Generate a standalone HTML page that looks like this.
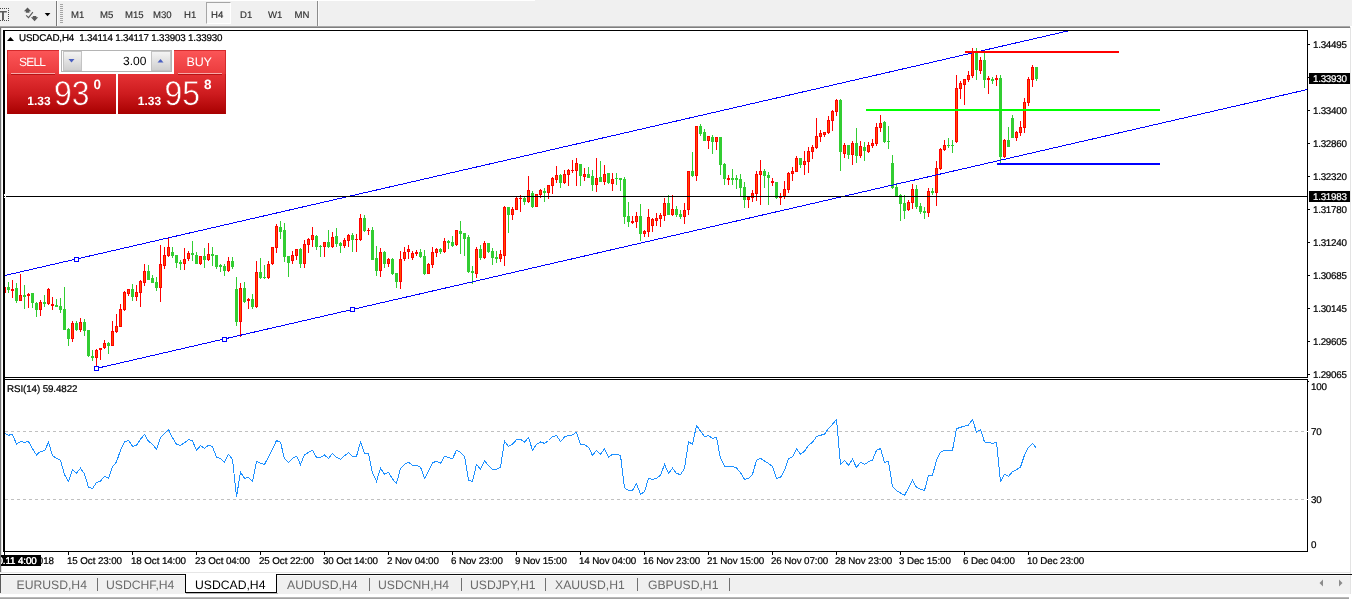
<!DOCTYPE html>
<html><head><meta charset="utf-8"><title>USDCAD,H4</title>
<style>
html,body{margin:0;padding:0;}
body{width:1352px;height:599px;overflow:hidden;background:#fff;position:relative;font-family:"Liberation Sans","DejaVu Sans",sans-serif;text-rendering:geometricPrecision;}
.abs{position:absolute;}
.t{position:absolute;white-space:nowrap;line-height:1;}
#toolbar{left:0;top:0;width:1352px;height:26px;background:#f0f0f0;}
.tf{position:absolute;top:10px;font-size:9.6px;color:#303030;-webkit-text-stroke:0.15px #303030;line-height:11px;white-space:nowrap;}
.pl{position:absolute;left:1313px;font-size:9.8px;color:#000;-webkit-text-stroke:0.22px currentColor;line-height:10px;white-space:nowrap;letter-spacing:-0.25px;}
.tl{position:absolute;top:557px;font-size:9.8px;color:#000;-webkit-text-stroke:0.22px currentColor;line-height:10px;white-space:nowrap;letter-spacing:-0.1px;}
.tab{position:absolute;top:579px;font-size:12.2px;line-height:13px;color:#6a6a6a;white-space:nowrap;letter-spacing:0px;margin-left:-1px;}
.sep{position:absolute;top:578px;width:1px;height:13px;background:#707070;}
.btn{position:absolute;color:#fff;}
</style></head><body>

<div id="toolbar" class="abs"></div>
<div class="abs" style="left:0;top:0;width:535px;height:1px;background:#ffffff"></div>
<div class="abs" style="left:0;top:26px;width:1350px;height:1px;background:#a8a8a8"></div>
<div class="abs" style="left:0;top:27px;width:1350px;height:1px;background:#7e7e7e"></div>
<div class="abs" style="left:1350px;top:27px;width:1px;height:567px;background:#e3e3e3"></div>
<div class="abs" style="left:-3px;top:8px;width:12px;height:13px;border:1px dotted #4a4a4a;box-sizing:border-box"></div>
<div class="t" style="left:-1px;top:9px;font-size:13px;line-height:13px;font-weight:bold;color:#5a5a5a">T</div>
<svg class="abs" style="left:22px;top:6px" width="30" height="17" viewBox="22 6 30 17"><path d="M27.5 7.6 L31.2 11.2 L29.4 11.2 L29.4 12.8 L25.8 12.8 L25.8 11.2 L23.9 11.2 Z M34.6 21.2 L38.2 17.2 L36.3 17.2 L36.3 16 L32.8 16 L32.8 17.2 L30.9 17.2 Z" fill="#5a5a5a"/><path d="M26.2 15.4 L28.5 17.6 L32.9 12.1" fill="none" stroke="#5a5a5a" stroke-width="1.1"/><path d="M44.7 13 L50.4 13 L47.55 16.2 Z" fill="#000"/></svg>
<div class="abs" style="left:56px;top:1px;width:1px;height:25px;background:#7a7a7a"></div>
<div class="abs" style="left:57px;top:1px;width:1px;height:25px;background:#fafafa"></div>
<div class="abs" style="left:60px;top:4px;width:3px;height:19px;background:repeating-linear-gradient(#a4a4a4 0 1px,#f0f0f0 1px 2px)"></div>
<div class="abs" style="left:206px;top:2px;width:25px;height:22px;box-sizing:border-box;border:1px solid #a6a6a6;border-right-color:#fff;border-bottom-color:#fff;background:#f7f7f7"></div>
<div class="tf" style="left:71px">M1</div>
<div class="tf" style="left:100px">M5</div>
<div class="tf" style="left:125px">M15</div>
<div class="tf" style="left:153px">M30</div>
<div class="tf" style="left:184px">H1</div>
<div class="tf" style="left:211px">H4</div>
<div class="tf" style="left:240px">D1</div>
<div class="tf" style="left:268px">W1</div>
<div class="tf" style="left:294.5px">MN</div>
<div class="abs" style="left:317px;top:1px;width:1px;height:25px;background:#8c8c8c"></div>
<div class="abs" style="left:318px;top:1px;width:1px;height:25px;background:#fafafa"></div>
<div class="abs" style="left:0;top:28px;width:1px;height:544px;background:#727272"></div>
<div class="abs" style="left:1px;top:28px;width:1px;height:544px;background:#e4e4e4"></div>
<svg class="abs" style="left:0;top:0" width="1352" height="599" viewBox="0 0 1352 599" shape-rendering="crispEdges">
<defs><clipPath id="cm"><rect x="5" y="31" width="1302" height="346"/></clipPath><clipPath id="cr"><rect x="5" y="381" width="1302" height="170"/></clipPath></defs>
<g clip-path="url(#cm)">
<rect x="4" y="287" width="1" height="6" fill="#ff0000"/>
<rect x="3" y="287" width="3" height="6" fill="#ff0000"/>
<rect x="4" y="288" width="1" height="4" fill="#ff4a00"/>
<rect x="8" y="282" width="1" height="11" fill="#32cd32"/>
<rect x="7" y="287" width="3" height="3" fill="#32cd32"/>
<rect x="12" y="280" width="1" height="18" fill="#ff0000"/>
<rect x="11" y="289" width="3" height="2" fill="#ff0000"/>
<rect x="16" y="283" width="1" height="20" fill="#32cd32"/>
<rect x="15" y="288" width="3" height="13" fill="#32cd32"/>
<rect x="20" y="274" width="1" height="27" fill="#ff0000"/>
<rect x="19" y="295" width="3" height="6" fill="#ff0000"/>
<rect x="20" y="296" width="1" height="4" fill="#ff4a00"/>
<rect x="24" y="285" width="1" height="24" fill="#32cd32"/>
<rect x="23" y="295" width="3" height="2" fill="#32cd32"/>
<rect x="28" y="293" width="1" height="15" fill="#ff0000"/>
<rect x="27" y="294" width="3" height="2" fill="#ff0000"/>
<rect x="32" y="293" width="1" height="15" fill="#32cd32"/>
<rect x="31" y="293" width="3" height="10" fill="#32cd32"/>
<rect x="36" y="302" width="1" height="15" fill="#32cd32"/>
<rect x="35" y="303" width="3" height="7" fill="#32cd32"/>
<rect x="40" y="300" width="1" height="16" fill="#ff0000"/>
<rect x="39" y="302" width="3" height="8" fill="#ff0000"/>
<rect x="40" y="303" width="1" height="6" fill="#ff4a00"/>
<rect x="44" y="295" width="1" height="12" fill="#32cd32"/>
<rect x="43" y="302" width="3" height="2" fill="#32cd32"/>
<rect x="48" y="288" width="1" height="17" fill="#ff0000"/>
<rect x="47" y="289" width="3" height="15" fill="#ff0000"/>
<rect x="48" y="290" width="1" height="13" fill="#ff4a00"/>
<rect x="52" y="297" width="1" height="13" fill="#ff0000"/>
<rect x="51" y="304" width="3" height="2" fill="#ff0000"/>
<rect x="56" y="299" width="1" height="8" fill="#32cd32"/>
<rect x="55" y="305" width="3" height="2" fill="#32cd32"/>
<rect x="60" y="298" width="1" height="15" fill="#32cd32"/>
<rect x="59" y="306" width="3" height="4" fill="#32cd32"/>
<rect x="64" y="287" width="1" height="43" fill="#32cd32"/>
<rect x="63" y="309" width="3" height="21" fill="#32cd32"/>
<rect x="68" y="328" width="1" height="18" fill="#32cd32"/>
<rect x="67" y="329" width="3" height="10" fill="#32cd32"/>
<rect x="72" y="321" width="1" height="21" fill="#ff0000"/>
<rect x="71" y="323" width="3" height="16" fill="#ff0000"/>
<rect x="72" y="324" width="1" height="14" fill="#ff4a00"/>
<rect x="76" y="321" width="1" height="10" fill="#32cd32"/>
<rect x="75" y="323" width="3" height="7" fill="#32cd32"/>
<rect x="80" y="318" width="1" height="14" fill="#ff0000"/>
<rect x="79" y="322" width="3" height="8" fill="#ff0000"/>
<rect x="80" y="323" width="1" height="6" fill="#ff4a00"/>
<rect x="84" y="319" width="1" height="17" fill="#32cd32"/>
<rect x="83" y="322" width="3" height="9" fill="#32cd32"/>
<rect x="88" y="330" width="1" height="27" fill="#32cd32"/>
<rect x="87" y="330" width="3" height="26" fill="#32cd32"/>
<rect x="92" y="350" width="1" height="11" fill="#32cd32"/>
<rect x="91" y="356" width="3" height="2" fill="#32cd32"/>
<rect x="96" y="349" width="1" height="18" fill="#ff0000"/>
<rect x="95" y="350" width="3" height="8" fill="#ff0000"/>
<rect x="96" y="351" width="1" height="6" fill="#ff4a00"/>
<rect x="100" y="348" width="1" height="12" fill="#ff0000"/>
<rect x="99" y="348" width="3" height="2" fill="#ff0000"/>
<rect x="104" y="340" width="1" height="9" fill="#ff0000"/>
<rect x="103" y="343" width="3" height="5" fill="#ff0000"/>
<rect x="104" y="344" width="1" height="3" fill="#ff4a00"/>
<rect x="108" y="342" width="1" height="12" fill="#32cd32"/>
<rect x="107" y="343" width="3" height="3" fill="#32cd32"/>
<rect x="112" y="321" width="1" height="25" fill="#ff0000"/>
<rect x="111" y="331" width="3" height="15" fill="#ff0000"/>
<rect x="112" y="332" width="1" height="13" fill="#ff4a00"/>
<rect x="116" y="314" width="1" height="19" fill="#ff0000"/>
<rect x="115" y="326" width="3" height="6" fill="#ff0000"/>
<rect x="116" y="327" width="1" height="4" fill="#ff4a00"/>
<rect x="120" y="304" width="1" height="23" fill="#ff0000"/>
<rect x="119" y="309" width="3" height="18" fill="#ff0000"/>
<rect x="120" y="310" width="1" height="16" fill="#ff4a00"/>
<rect x="124" y="291" width="1" height="20" fill="#ff0000"/>
<rect x="123" y="292" width="3" height="18" fill="#ff0000"/>
<rect x="124" y="293" width="1" height="16" fill="#ff4a00"/>
<rect x="128" y="289" width="1" height="7" fill="#ff0000"/>
<rect x="127" y="289" width="3" height="5" fill="#ff0000"/>
<rect x="128" y="290" width="1" height="3" fill="#ff4a00"/>
<rect x="132" y="284" width="1" height="17" fill="#32cd32"/>
<rect x="131" y="289" width="3" height="8" fill="#32cd32"/>
<rect x="136" y="285" width="1" height="16" fill="#ff0000"/>
<rect x="135" y="292" width="3" height="5" fill="#ff0000"/>
<rect x="136" y="293" width="1" height="3" fill="#ff4a00"/>
<rect x="140" y="280" width="1" height="27" fill="#ff0000"/>
<rect x="139" y="281" width="3" height="12" fill="#ff0000"/>
<rect x="140" y="282" width="1" height="10" fill="#ff4a00"/>
<rect x="144" y="264" width="1" height="22" fill="#ff0000"/>
<rect x="143" y="271" width="3" height="12" fill="#ff0000"/>
<rect x="144" y="272" width="1" height="10" fill="#ff4a00"/>
<rect x="148" y="265" width="1" height="15" fill="#32cd32"/>
<rect x="147" y="271" width="3" height="9" fill="#32cd32"/>
<rect x="152" y="275" width="1" height="8" fill="#32cd32"/>
<rect x="151" y="278" width="3" height="5" fill="#32cd32"/>
<rect x="156" y="277" width="1" height="14" fill="#32cd32"/>
<rect x="155" y="282" width="3" height="6" fill="#32cd32"/>
<rect x="160" y="245" width="1" height="57" fill="#ff0000"/>
<rect x="159" y="264" width="3" height="24" fill="#ff0000"/>
<rect x="160" y="265" width="1" height="22" fill="#ff4a00"/>
<rect x="164" y="247" width="1" height="22" fill="#ff0000"/>
<rect x="163" y="255" width="3" height="11" fill="#ff0000"/>
<rect x="164" y="256" width="1" height="9" fill="#ff4a00"/>
<rect x="168" y="237" width="1" height="20" fill="#ff0000"/>
<rect x="167" y="247" width="3" height="9" fill="#ff0000"/>
<rect x="168" y="248" width="1" height="7" fill="#ff4a00"/>
<rect x="172" y="247" width="1" height="11" fill="#32cd32"/>
<rect x="171" y="252" width="3" height="4" fill="#32cd32"/>
<rect x="176" y="255" width="1" height="13" fill="#32cd32"/>
<rect x="175" y="255" width="3" height="8" fill="#32cd32"/>
<rect x="180" y="260" width="1" height="10" fill="#32cd32"/>
<rect x="179" y="262" width="3" height="2" fill="#32cd32"/>
<rect x="184" y="248" width="1" height="22" fill="#ff0000"/>
<rect x="183" y="259" width="3" height="5" fill="#ff0000"/>
<rect x="184" y="260" width="1" height="3" fill="#ff4a00"/>
<rect x="188" y="251" width="1" height="10" fill="#ff0000"/>
<rect x="187" y="253" width="3" height="6" fill="#ff0000"/>
<rect x="188" y="254" width="1" height="4" fill="#ff4a00"/>
<rect x="192" y="241" width="1" height="20" fill="#32cd32"/>
<rect x="191" y="253" width="3" height="2" fill="#32cd32"/>
<rect x="196" y="252" width="1" height="12" fill="#32cd32"/>
<rect x="195" y="255" width="3" height="9" fill="#32cd32"/>
<rect x="200" y="256" width="1" height="9" fill="#ff0000"/>
<rect x="199" y="256" width="3" height="8" fill="#ff0000"/>
<rect x="200" y="257" width="1" height="6" fill="#ff4a00"/>
<rect x="204" y="248" width="1" height="20" fill="#32cd32"/>
<rect x="203" y="256" width="3" height="4" fill="#32cd32"/>
<rect x="208" y="243" width="1" height="18" fill="#ff0000"/>
<rect x="207" y="254" width="3" height="6" fill="#ff0000"/>
<rect x="208" y="255" width="1" height="4" fill="#ff4a00"/>
<rect x="212" y="247" width="1" height="19" fill="#32cd32"/>
<rect x="211" y="254" width="3" height="2" fill="#32cd32"/>
<rect x="216" y="255" width="1" height="14" fill="#32cd32"/>
<rect x="215" y="255" width="3" height="12" fill="#32cd32"/>
<rect x="220" y="264" width="1" height="8" fill="#32cd32"/>
<rect x="219" y="265" width="3" height="2" fill="#32cd32"/>
<rect x="224" y="264" width="1" height="12" fill="#32cd32"/>
<rect x="223" y="266" width="3" height="5" fill="#32cd32"/>
<rect x="228" y="257" width="1" height="15" fill="#ff0000"/>
<rect x="227" y="261" width="3" height="10" fill="#ff0000"/>
<rect x="228" y="262" width="1" height="8" fill="#ff4a00"/>
<rect x="232" y="257" width="1" height="12" fill="#32cd32"/>
<rect x="231" y="261" width="3" height="6" fill="#32cd32"/>
<rect x="236" y="277" width="1" height="49" fill="#32cd32"/>
<rect x="235" y="289" width="3" height="33" fill="#32cd32"/>
<rect x="240" y="283" width="1" height="54" fill="#ff0000"/>
<rect x="239" y="288" width="3" height="34" fill="#ff0000"/>
<rect x="240" y="289" width="1" height="32" fill="#ff4a00"/>
<rect x="244" y="282" width="1" height="21" fill="#32cd32"/>
<rect x="243" y="288" width="3" height="14" fill="#32cd32"/>
<rect x="248" y="298" width="1" height="11" fill="#ff0000"/>
<rect x="247" y="299" width="3" height="2" fill="#ff0000"/>
<rect x="252" y="294" width="1" height="15" fill="#32cd32"/>
<rect x="251" y="299" width="3" height="8" fill="#32cd32"/>
<rect x="256" y="261" width="1" height="47" fill="#ff0000"/>
<rect x="255" y="272" width="3" height="35" fill="#ff0000"/>
<rect x="256" y="273" width="1" height="33" fill="#ff4a00"/>
<rect x="260" y="258" width="1" height="21" fill="#32cd32"/>
<rect x="259" y="272" width="3" height="6" fill="#32cd32"/>
<rect x="264" y="265" width="1" height="14" fill="#32cd32"/>
<rect x="263" y="277" width="3" height="1" fill="#32cd32"/>
<rect x="268" y="261" width="1" height="18" fill="#ff0000"/>
<rect x="267" y="264" width="3" height="14" fill="#ff0000"/>
<rect x="268" y="265" width="1" height="12" fill="#ff4a00"/>
<rect x="272" y="247" width="1" height="18" fill="#ff0000"/>
<rect x="271" y="247" width="3" height="17" fill="#ff0000"/>
<rect x="272" y="248" width="1" height="15" fill="#ff4a00"/>
<rect x="276" y="224" width="1" height="29" fill="#ff0000"/>
<rect x="275" y="226" width="3" height="22" fill="#ff0000"/>
<rect x="276" y="227" width="1" height="20" fill="#ff4a00"/>
<rect x="280" y="221" width="1" height="18" fill="#32cd32"/>
<rect x="279" y="227" width="3" height="5" fill="#32cd32"/>
<rect x="284" y="223" width="1" height="39" fill="#32cd32"/>
<rect x="283" y="230" width="3" height="27" fill="#32cd32"/>
<rect x="288" y="256" width="1" height="21" fill="#32cd32"/>
<rect x="287" y="256" width="3" height="7" fill="#32cd32"/>
<rect x="292" y="251" width="1" height="13" fill="#ff0000"/>
<rect x="291" y="255" width="3" height="6" fill="#ff0000"/>
<rect x="292" y="256" width="1" height="4" fill="#ff4a00"/>
<rect x="296" y="249" width="1" height="11" fill="#ff0000"/>
<rect x="295" y="249" width="3" height="7" fill="#ff0000"/>
<rect x="296" y="250" width="1" height="5" fill="#ff4a00"/>
<rect x="300" y="248" width="1" height="20" fill="#32cd32"/>
<rect x="299" y="249" width="3" height="15" fill="#32cd32"/>
<rect x="304" y="240" width="1" height="28" fill="#ff0000"/>
<rect x="303" y="244" width="3" height="20" fill="#ff0000"/>
<rect x="304" y="245" width="1" height="18" fill="#ff4a00"/>
<rect x="308" y="238" width="1" height="15" fill="#ff0000"/>
<rect x="307" y="239" width="3" height="6" fill="#ff0000"/>
<rect x="308" y="240" width="1" height="4" fill="#ff4a00"/>
<rect x="312" y="227" width="1" height="20" fill="#ff0000"/>
<rect x="311" y="235" width="3" height="5" fill="#ff0000"/>
<rect x="312" y="236" width="1" height="3" fill="#ff4a00"/>
<rect x="316" y="235" width="1" height="15" fill="#32cd32"/>
<rect x="315" y="236" width="3" height="11" fill="#32cd32"/>
<rect x="320" y="245" width="1" height="12" fill="#32cd32"/>
<rect x="319" y="246" width="3" height="1" fill="#32cd32"/>
<rect x="324" y="242" width="1" height="15" fill="#ff0000"/>
<rect x="323" y="242" width="3" height="5" fill="#ff0000"/>
<rect x="324" y="243" width="1" height="3" fill="#ff4a00"/>
<rect x="328" y="230" width="1" height="18" fill="#32cd32"/>
<rect x="327" y="242" width="3" height="5" fill="#32cd32"/>
<rect x="332" y="232" width="1" height="16" fill="#ff0000"/>
<rect x="331" y="237" width="3" height="10" fill="#ff0000"/>
<rect x="332" y="238" width="1" height="8" fill="#ff4a00"/>
<rect x="336" y="228" width="1" height="19" fill="#32cd32"/>
<rect x="335" y="236" width="3" height="8" fill="#32cd32"/>
<rect x="340" y="242" width="1" height="11" fill="#32cd32"/>
<rect x="339" y="243" width="3" height="3" fill="#32cd32"/>
<rect x="344" y="238" width="1" height="10" fill="#ff0000"/>
<rect x="343" y="240" width="3" height="6" fill="#ff0000"/>
<rect x="344" y="241" width="1" height="4" fill="#ff4a00"/>
<rect x="348" y="234" width="1" height="13" fill="#ff0000"/>
<rect x="347" y="235" width="3" height="6" fill="#ff0000"/>
<rect x="348" y="236" width="1" height="4" fill="#ff4a00"/>
<rect x="352" y="233" width="1" height="19" fill="#32cd32"/>
<rect x="351" y="235" width="3" height="5" fill="#32cd32"/>
<rect x="356" y="234" width="1" height="18" fill="#ff0000"/>
<rect x="355" y="239" width="3" height="1" fill="#ff0000"/>
<rect x="360" y="214" width="1" height="27" fill="#ff0000"/>
<rect x="359" y="218" width="3" height="22" fill="#ff0000"/>
<rect x="360" y="219" width="1" height="20" fill="#ff4a00"/>
<rect x="364" y="215" width="1" height="17" fill="#32cd32"/>
<rect x="363" y="218" width="3" height="13" fill="#32cd32"/>
<rect x="368" y="228" width="1" height="7" fill="#ff0000"/>
<rect x="367" y="230" width="3" height="1" fill="#ff0000"/>
<rect x="372" y="227" width="1" height="33" fill="#32cd32"/>
<rect x="371" y="230" width="3" height="30" fill="#32cd32"/>
<rect x="376" y="246" width="1" height="30" fill="#32cd32"/>
<rect x="375" y="258" width="3" height="13" fill="#32cd32"/>
<rect x="380" y="248" width="1" height="29" fill="#ff0000"/>
<rect x="379" y="252" width="3" height="19" fill="#ff0000"/>
<rect x="380" y="253" width="1" height="17" fill="#ff4a00"/>
<rect x="384" y="251" width="1" height="17" fill="#32cd32"/>
<rect x="383" y="252" width="3" height="12" fill="#32cd32"/>
<rect x="388" y="258" width="1" height="9" fill="#ff0000"/>
<rect x="387" y="259" width="3" height="5" fill="#ff0000"/>
<rect x="388" y="260" width="1" height="3" fill="#ff4a00"/>
<rect x="392" y="258" width="1" height="17" fill="#32cd32"/>
<rect x="391" y="259" width="3" height="15" fill="#32cd32"/>
<rect x="396" y="273" width="1" height="15" fill="#32cd32"/>
<rect x="395" y="273" width="3" height="9" fill="#32cd32"/>
<rect x="400" y="251" width="1" height="38" fill="#ff0000"/>
<rect x="399" y="259" width="3" height="23" fill="#ff0000"/>
<rect x="400" y="260" width="1" height="21" fill="#ff4a00"/>
<rect x="404" y="247" width="1" height="14" fill="#ff0000"/>
<rect x="403" y="252" width="3" height="7" fill="#ff0000"/>
<rect x="404" y="253" width="1" height="5" fill="#ff4a00"/>
<rect x="408" y="245" width="1" height="14" fill="#ff0000"/>
<rect x="407" y="249" width="3" height="3" fill="#ff0000"/>
<rect x="408" y="250" width="1" height="1" fill="#ff4a00"/>
<rect x="412" y="251" width="1" height="9" fill="#ff0000"/>
<rect x="411" y="253" width="3" height="5" fill="#ff0000"/>
<rect x="412" y="254" width="1" height="3" fill="#ff4a00"/>
<rect x="416" y="250" width="1" height="6" fill="#ff0000"/>
<rect x="415" y="252" width="3" height="2" fill="#ff0000"/>
<rect x="420" y="249" width="1" height="9" fill="#32cd32"/>
<rect x="419" y="252" width="3" height="5" fill="#32cd32"/>
<rect x="424" y="250" width="1" height="25" fill="#32cd32"/>
<rect x="423" y="256" width="3" height="18" fill="#32cd32"/>
<rect x="428" y="263" width="1" height="11" fill="#ff0000"/>
<rect x="427" y="264" width="3" height="10" fill="#ff0000"/>
<rect x="428" y="265" width="1" height="8" fill="#ff4a00"/>
<rect x="432" y="247" width="1" height="21" fill="#ff0000"/>
<rect x="431" y="252" width="3" height="13" fill="#ff0000"/>
<rect x="432" y="253" width="1" height="11" fill="#ff4a00"/>
<rect x="436" y="248" width="1" height="9" fill="#ff0000"/>
<rect x="435" y="249" width="3" height="4" fill="#ff0000"/>
<rect x="436" y="250" width="1" height="2" fill="#ff4a00"/>
<rect x="440" y="248" width="1" height="6" fill="#32cd32"/>
<rect x="439" y="249" width="3" height="3" fill="#32cd32"/>
<rect x="444" y="238" width="1" height="15" fill="#ff0000"/>
<rect x="443" y="241" width="3" height="11" fill="#ff0000"/>
<rect x="444" y="242" width="1" height="9" fill="#ff4a00"/>
<rect x="448" y="240" width="1" height="9" fill="#32cd32"/>
<rect x="447" y="241" width="3" height="2" fill="#32cd32"/>
<rect x="452" y="236" width="1" height="11" fill="#32cd32"/>
<rect x="451" y="242" width="3" height="4" fill="#32cd32"/>
<rect x="456" y="230" width="1" height="16" fill="#ff0000"/>
<rect x="455" y="230" width="3" height="15" fill="#ff0000"/>
<rect x="456" y="231" width="1" height="13" fill="#ff4a00"/>
<rect x="460" y="221" width="1" height="33" fill="#32cd32"/>
<rect x="459" y="231" width="3" height="3" fill="#32cd32"/>
<rect x="464" y="233" width="1" height="23" fill="#32cd32"/>
<rect x="463" y="233" width="3" height="6" fill="#32cd32"/>
<rect x="468" y="235" width="1" height="38" fill="#32cd32"/>
<rect x="467" y="237" width="3" height="35" fill="#32cd32"/>
<rect x="472" y="266" width="1" height="18" fill="#32cd32"/>
<rect x="471" y="271" width="3" height="2" fill="#32cd32"/>
<rect x="476" y="247" width="1" height="31" fill="#ff0000"/>
<rect x="475" y="249" width="3" height="25" fill="#ff0000"/>
<rect x="476" y="250" width="1" height="23" fill="#ff4a00"/>
<rect x="480" y="245" width="1" height="15" fill="#32cd32"/>
<rect x="479" y="249" width="3" height="9" fill="#32cd32"/>
<rect x="484" y="241" width="1" height="18" fill="#ff0000"/>
<rect x="483" y="243" width="3" height="15" fill="#ff0000"/>
<rect x="484" y="244" width="1" height="13" fill="#ff4a00"/>
<rect x="488" y="243" width="1" height="10" fill="#32cd32"/>
<rect x="487" y="243" width="3" height="9" fill="#32cd32"/>
<rect x="492" y="248" width="1" height="17" fill="#32cd32"/>
<rect x="491" y="251" width="3" height="7" fill="#32cd32"/>
<rect x="496" y="251" width="1" height="12" fill="#32cd32"/>
<rect x="495" y="257" width="3" height="2" fill="#32cd32"/>
<rect x="500" y="250" width="1" height="12" fill="#ff0000"/>
<rect x="499" y="254" width="3" height="5" fill="#ff0000"/>
<rect x="500" y="255" width="1" height="3" fill="#ff4a00"/>
<rect x="504" y="206" width="1" height="60" fill="#ff0000"/>
<rect x="503" y="207" width="3" height="49" fill="#ff0000"/>
<rect x="504" y="208" width="1" height="47" fill="#ff4a00"/>
<rect x="508" y="207" width="1" height="26" fill="#32cd32"/>
<rect x="507" y="207" width="3" height="8" fill="#32cd32"/>
<rect x="512" y="207" width="1" height="13" fill="#ff0000"/>
<rect x="511" y="209" width="3" height="6" fill="#ff0000"/>
<rect x="512" y="210" width="1" height="4" fill="#ff4a00"/>
<rect x="516" y="197" width="1" height="13" fill="#ff0000"/>
<rect x="515" y="198" width="3" height="12" fill="#ff0000"/>
<rect x="516" y="199" width="1" height="10" fill="#ff4a00"/>
<rect x="520" y="195" width="1" height="17" fill="#ff0000"/>
<rect x="519" y="198" width="3" height="1" fill="#ff0000"/>
<rect x="524" y="197" width="1" height="8" fill="#32cd32"/>
<rect x="523" y="198" width="3" height="4" fill="#32cd32"/>
<rect x="528" y="176" width="1" height="27" fill="#ff0000"/>
<rect x="527" y="190" width="3" height="12" fill="#ff0000"/>
<rect x="528" y="191" width="1" height="10" fill="#ff4a00"/>
<rect x="532" y="191" width="1" height="17" fill="#32cd32"/>
<rect x="531" y="193" width="3" height="14" fill="#32cd32"/>
<rect x="536" y="194" width="1" height="13" fill="#ff0000"/>
<rect x="535" y="194" width="3" height="13" fill="#ff0000"/>
<rect x="536" y="195" width="1" height="11" fill="#ff4a00"/>
<rect x="540" y="189" width="1" height="9" fill="#ff0000"/>
<rect x="539" y="190" width="3" height="5" fill="#ff0000"/>
<rect x="540" y="191" width="1" height="3" fill="#ff4a00"/>
<rect x="544" y="188" width="1" height="14" fill="#32cd32"/>
<rect x="543" y="191" width="3" height="2" fill="#32cd32"/>
<rect x="548" y="185" width="1" height="14" fill="#ff0000"/>
<rect x="547" y="185" width="3" height="8" fill="#ff0000"/>
<rect x="548" y="186" width="1" height="6" fill="#ff4a00"/>
<rect x="552" y="177" width="1" height="17" fill="#ff0000"/>
<rect x="551" y="178" width="3" height="8" fill="#ff0000"/>
<rect x="552" y="179" width="1" height="6" fill="#ff4a00"/>
<rect x="556" y="166" width="1" height="17" fill="#ff0000"/>
<rect x="555" y="175" width="3" height="5" fill="#ff0000"/>
<rect x="556" y="176" width="1" height="3" fill="#ff4a00"/>
<rect x="560" y="174" width="1" height="14" fill="#32cd32"/>
<rect x="559" y="175" width="3" height="8" fill="#32cd32"/>
<rect x="564" y="170" width="1" height="14" fill="#ff0000"/>
<rect x="563" y="174" width="3" height="9" fill="#ff0000"/>
<rect x="564" y="175" width="1" height="7" fill="#ff4a00"/>
<rect x="568" y="169" width="1" height="17" fill="#ff0000"/>
<rect x="567" y="170" width="3" height="5" fill="#ff0000"/>
<rect x="568" y="171" width="1" height="3" fill="#ff4a00"/>
<rect x="572" y="160" width="1" height="13" fill="#ff0000"/>
<rect x="571" y="170" width="3" height="1" fill="#ff0000"/>
<rect x="576" y="158" width="1" height="28" fill="#ff0000"/>
<rect x="575" y="163" width="3" height="8" fill="#ff0000"/>
<rect x="576" y="164" width="1" height="6" fill="#ff4a00"/>
<rect x="580" y="164" width="1" height="22" fill="#32cd32"/>
<rect x="579" y="164" width="3" height="12" fill="#32cd32"/>
<rect x="584" y="168" width="1" height="13" fill="#ff0000"/>
<rect x="583" y="174" width="3" height="3" fill="#ff0000"/>
<rect x="584" y="175" width="1" height="1" fill="#ff4a00"/>
<rect x="588" y="167" width="1" height="11" fill="#32cd32"/>
<rect x="587" y="174" width="3" height="4" fill="#32cd32"/>
<rect x="592" y="170" width="1" height="21" fill="#32cd32"/>
<rect x="591" y="176" width="3" height="9" fill="#32cd32"/>
<rect x="596" y="158" width="1" height="34" fill="#ff0000"/>
<rect x="595" y="178" width="3" height="7" fill="#ff0000"/>
<rect x="596" y="179" width="1" height="5" fill="#ff4a00"/>
<rect x="600" y="161" width="1" height="21" fill="#32cd32"/>
<rect x="599" y="177" width="3" height="5" fill="#32cd32"/>
<rect x="604" y="165" width="1" height="20" fill="#ff0000"/>
<rect x="603" y="174" width="3" height="8" fill="#ff0000"/>
<rect x="604" y="175" width="1" height="6" fill="#ff4a00"/>
<rect x="608" y="173" width="1" height="11" fill="#32cd32"/>
<rect x="607" y="173" width="3" height="10" fill="#32cd32"/>
<rect x="612" y="173" width="1" height="18" fill="#ff0000"/>
<rect x="611" y="179" width="3" height="5" fill="#ff0000"/>
<rect x="612" y="180" width="1" height="3" fill="#ff4a00"/>
<rect x="616" y="173" width="1" height="12" fill="#32cd32"/>
<rect x="615" y="178" width="3" height="1" fill="#32cd32"/>
<rect x="620" y="178" width="1" height="13" fill="#32cd32"/>
<rect x="619" y="178" width="3" height="2" fill="#32cd32"/>
<rect x="624" y="177" width="1" height="47" fill="#32cd32"/>
<rect x="623" y="179" width="3" height="38" fill="#32cd32"/>
<rect x="628" y="202" width="1" height="25" fill="#32cd32"/>
<rect x="627" y="216" width="3" height="6" fill="#32cd32"/>
<rect x="632" y="216" width="1" height="8" fill="#ff0000"/>
<rect x="631" y="221" width="3" height="2" fill="#ff0000"/>
<rect x="636" y="212" width="1" height="16" fill="#ff0000"/>
<rect x="635" y="216" width="3" height="6" fill="#ff0000"/>
<rect x="636" y="217" width="1" height="4" fill="#ff4a00"/>
<rect x="640" y="204" width="1" height="37" fill="#32cd32"/>
<rect x="639" y="216" width="3" height="18" fill="#32cd32"/>
<rect x="644" y="230" width="1" height="7" fill="#ff0000"/>
<rect x="643" y="231" width="3" height="3" fill="#ff0000"/>
<rect x="644" y="232" width="1" height="1" fill="#ff4a00"/>
<rect x="648" y="209" width="1" height="28" fill="#ff0000"/>
<rect x="647" y="217" width="3" height="15" fill="#ff0000"/>
<rect x="648" y="218" width="1" height="13" fill="#ff4a00"/>
<rect x="652" y="218" width="1" height="14" fill="#ff0000"/>
<rect x="651" y="219" width="3" height="7" fill="#ff0000"/>
<rect x="652" y="220" width="1" height="5" fill="#ff4a00"/>
<rect x="656" y="213" width="1" height="13" fill="#ff0000"/>
<rect x="655" y="218" width="3" height="3" fill="#ff0000"/>
<rect x="656" y="219" width="1" height="1" fill="#ff4a00"/>
<rect x="660" y="213" width="1" height="14" fill="#ff0000"/>
<rect x="659" y="215" width="3" height="4" fill="#ff0000"/>
<rect x="660" y="216" width="1" height="2" fill="#ff4a00"/>
<rect x="664" y="198" width="1" height="23" fill="#ff0000"/>
<rect x="663" y="203" width="3" height="13" fill="#ff0000"/>
<rect x="664" y="204" width="1" height="11" fill="#ff4a00"/>
<rect x="668" y="195" width="1" height="20" fill="#32cd32"/>
<rect x="667" y="203" width="3" height="12" fill="#32cd32"/>
<rect x="672" y="195" width="1" height="21" fill="#ff0000"/>
<rect x="671" y="209" width="3" height="6" fill="#ff0000"/>
<rect x="672" y="210" width="1" height="4" fill="#ff4a00"/>
<rect x="676" y="206" width="1" height="11" fill="#32cd32"/>
<rect x="675" y="209" width="3" height="6" fill="#32cd32"/>
<rect x="680" y="210" width="1" height="9" fill="#32cd32"/>
<rect x="679" y="214" width="3" height="3" fill="#32cd32"/>
<rect x="684" y="203" width="1" height="21" fill="#ff0000"/>
<rect x="683" y="210" width="3" height="7" fill="#ff0000"/>
<rect x="684" y="211" width="1" height="5" fill="#ff4a00"/>
<rect x="688" y="171" width="1" height="44" fill="#ff0000"/>
<rect x="687" y="171" width="3" height="39" fill="#ff0000"/>
<rect x="688" y="172" width="1" height="37" fill="#ff4a00"/>
<rect x="692" y="152" width="1" height="25" fill="#32cd32"/>
<rect x="691" y="171" width="3" height="5" fill="#32cd32"/>
<rect x="696" y="126" width="1" height="55" fill="#ff0000"/>
<rect x="695" y="126" width="3" height="50" fill="#ff0000"/>
<rect x="696" y="127" width="1" height="48" fill="#ff4a00"/>
<rect x="700" y="124" width="1" height="12" fill="#32cd32"/>
<rect x="699" y="126" width="3" height="8" fill="#32cd32"/>
<rect x="704" y="129" width="1" height="12" fill="#32cd32"/>
<rect x="703" y="132" width="3" height="9" fill="#32cd32"/>
<rect x="708" y="136" width="1" height="13" fill="#ff0000"/>
<rect x="707" y="136" width="3" height="5" fill="#ff0000"/>
<rect x="708" y="137" width="1" height="3" fill="#ff4a00"/>
<rect x="712" y="135" width="1" height="19" fill="#32cd32"/>
<rect x="711" y="137" width="3" height="5" fill="#32cd32"/>
<rect x="716" y="137" width="1" height="13" fill="#ff0000"/>
<rect x="715" y="137" width="3" height="5" fill="#ff0000"/>
<rect x="716" y="138" width="1" height="3" fill="#ff4a00"/>
<rect x="720" y="137" width="1" height="38" fill="#32cd32"/>
<rect x="719" y="137" width="3" height="28" fill="#32cd32"/>
<rect x="724" y="163" width="1" height="22" fill="#32cd32"/>
<rect x="723" y="164" width="3" height="15" fill="#32cd32"/>
<rect x="728" y="175" width="1" height="10" fill="#ff0000"/>
<rect x="727" y="178" width="3" height="2" fill="#ff0000"/>
<rect x="732" y="169" width="1" height="16" fill="#32cd32"/>
<rect x="731" y="178" width="3" height="2" fill="#32cd32"/>
<rect x="736" y="175" width="1" height="14" fill="#32cd32"/>
<rect x="735" y="178" width="3" height="2" fill="#32cd32"/>
<rect x="740" y="174" width="1" height="22" fill="#32cd32"/>
<rect x="739" y="179" width="3" height="9" fill="#32cd32"/>
<rect x="744" y="182" width="1" height="26" fill="#32cd32"/>
<rect x="743" y="187" width="3" height="13" fill="#32cd32"/>
<rect x="748" y="196" width="1" height="12" fill="#ff0000"/>
<rect x="747" y="197" width="3" height="3" fill="#ff0000"/>
<rect x="748" y="198" width="1" height="1" fill="#ff4a00"/>
<rect x="752" y="190" width="1" height="12" fill="#ff0000"/>
<rect x="751" y="193" width="3" height="5" fill="#ff0000"/>
<rect x="752" y="194" width="1" height="3" fill="#ff4a00"/>
<rect x="756" y="171" width="1" height="30" fill="#ff0000"/>
<rect x="755" y="174" width="3" height="20" fill="#ff0000"/>
<rect x="756" y="175" width="1" height="18" fill="#ff4a00"/>
<rect x="760" y="160" width="1" height="45" fill="#ff0000"/>
<rect x="759" y="171" width="3" height="4" fill="#ff0000"/>
<rect x="760" y="172" width="1" height="2" fill="#ff4a00"/>
<rect x="764" y="169" width="1" height="19" fill="#32cd32"/>
<rect x="763" y="171" width="3" height="5" fill="#32cd32"/>
<rect x="768" y="172" width="1" height="33" fill="#32cd32"/>
<rect x="767" y="175" width="3" height="3" fill="#32cd32"/>
<rect x="772" y="178" width="1" height="8" fill="#ff0000"/>
<rect x="771" y="181" width="3" height="2" fill="#ff0000"/>
<rect x="776" y="182" width="1" height="17" fill="#32cd32"/>
<rect x="775" y="182" width="3" height="16" fill="#32cd32"/>
<rect x="780" y="193" width="1" height="12" fill="#ff0000"/>
<rect x="779" y="196" width="3" height="2" fill="#ff0000"/>
<rect x="784" y="181" width="1" height="18" fill="#ff0000"/>
<rect x="783" y="189" width="3" height="8" fill="#ff0000"/>
<rect x="784" y="190" width="1" height="6" fill="#ff4a00"/>
<rect x="788" y="172" width="1" height="21" fill="#ff0000"/>
<rect x="787" y="173" width="3" height="17" fill="#ff0000"/>
<rect x="788" y="174" width="1" height="15" fill="#ff4a00"/>
<rect x="792" y="167" width="1" height="14" fill="#ff0000"/>
<rect x="791" y="171" width="3" height="3" fill="#ff0000"/>
<rect x="792" y="172" width="1" height="1" fill="#ff4a00"/>
<rect x="796" y="156" width="1" height="16" fill="#ff0000"/>
<rect x="795" y="158" width="3" height="14" fill="#ff0000"/>
<rect x="796" y="159" width="1" height="12" fill="#ff4a00"/>
<rect x="800" y="158" width="1" height="10" fill="#32cd32"/>
<rect x="799" y="158" width="3" height="7" fill="#32cd32"/>
<rect x="804" y="151" width="1" height="24" fill="#ff0000"/>
<rect x="803" y="161" width="3" height="4" fill="#ff0000"/>
<rect x="804" y="162" width="1" height="2" fill="#ff4a00"/>
<rect x="808" y="147" width="1" height="26" fill="#ff0000"/>
<rect x="807" y="151" width="3" height="11" fill="#ff0000"/>
<rect x="808" y="152" width="1" height="9" fill="#ff4a00"/>
<rect x="812" y="145" width="1" height="14" fill="#ff0000"/>
<rect x="811" y="147" width="3" height="5" fill="#ff0000"/>
<rect x="812" y="148" width="1" height="3" fill="#ff4a00"/>
<rect x="816" y="118" width="1" height="31" fill="#ff0000"/>
<rect x="815" y="136" width="3" height="12" fill="#ff0000"/>
<rect x="816" y="137" width="1" height="10" fill="#ff4a00"/>
<rect x="820" y="130" width="1" height="12" fill="#ff0000"/>
<rect x="819" y="133" width="3" height="4" fill="#ff0000"/>
<rect x="820" y="134" width="1" height="2" fill="#ff4a00"/>
<rect x="824" y="132" width="1" height="5" fill="#ff0000"/>
<rect x="823" y="132" width="3" height="3" fill="#ff0000"/>
<rect x="824" y="133" width="1" height="1" fill="#ff4a00"/>
<rect x="828" y="116" width="1" height="18" fill="#ff0000"/>
<rect x="827" y="120" width="3" height="13" fill="#ff0000"/>
<rect x="828" y="121" width="1" height="11" fill="#ff4a00"/>
<rect x="832" y="110" width="1" height="21" fill="#ff0000"/>
<rect x="831" y="111" width="3" height="10" fill="#ff0000"/>
<rect x="832" y="112" width="1" height="8" fill="#ff4a00"/>
<rect x="836" y="99" width="1" height="17" fill="#ff0000"/>
<rect x="835" y="100" width="3" height="12" fill="#ff0000"/>
<rect x="836" y="101" width="1" height="10" fill="#ff4a00"/>
<rect x="840" y="99" width="1" height="72" fill="#32cd32"/>
<rect x="839" y="100" width="3" height="52" fill="#32cd32"/>
<rect x="844" y="143" width="1" height="15" fill="#ff0000"/>
<rect x="843" y="145" width="3" height="9" fill="#ff0000"/>
<rect x="844" y="146" width="1" height="7" fill="#ff4a00"/>
<rect x="848" y="145" width="1" height="14" fill="#32cd32"/>
<rect x="847" y="145" width="3" height="10" fill="#32cd32"/>
<rect x="852" y="141" width="1" height="24" fill="#ff0000"/>
<rect x="851" y="143" width="3" height="12" fill="#ff0000"/>
<rect x="852" y="144" width="1" height="10" fill="#ff4a00"/>
<rect x="856" y="128" width="1" height="35" fill="#32cd32"/>
<rect x="855" y="143" width="3" height="13" fill="#32cd32"/>
<rect x="860" y="141" width="1" height="17" fill="#ff0000"/>
<rect x="859" y="146" width="3" height="10" fill="#ff0000"/>
<rect x="860" y="147" width="1" height="8" fill="#ff4a00"/>
<rect x="864" y="142" width="1" height="19" fill="#32cd32"/>
<rect x="863" y="147" width="3" height="4" fill="#32cd32"/>
<rect x="868" y="142" width="1" height="11" fill="#ff0000"/>
<rect x="867" y="145" width="3" height="7" fill="#ff0000"/>
<rect x="868" y="146" width="1" height="5" fill="#ff4a00"/>
<rect x="872" y="139" width="1" height="9" fill="#ff0000"/>
<rect x="871" y="143" width="3" height="3" fill="#ff0000"/>
<rect x="872" y="144" width="1" height="1" fill="#ff4a00"/>
<rect x="876" y="123" width="1" height="23" fill="#ff0000"/>
<rect x="875" y="127" width="3" height="17" fill="#ff0000"/>
<rect x="876" y="128" width="1" height="15" fill="#ff4a00"/>
<rect x="880" y="115" width="1" height="17" fill="#ff0000"/>
<rect x="879" y="123" width="3" height="5" fill="#ff0000"/>
<rect x="880" y="124" width="1" height="3" fill="#ff4a00"/>
<rect x="884" y="121" width="1" height="22" fill="#32cd32"/>
<rect x="883" y="122" width="3" height="20" fill="#32cd32"/>
<rect x="888" y="126" width="1" height="23" fill="#32cd32"/>
<rect x="887" y="141" width="3" height="1" fill="#32cd32"/>
<rect x="892" y="155" width="1" height="34" fill="#32cd32"/>
<rect x="891" y="163" width="3" height="25" fill="#32cd32"/>
<rect x="896" y="183" width="1" height="13" fill="#32cd32"/>
<rect x="895" y="187" width="3" height="9" fill="#32cd32"/>
<rect x="900" y="194" width="1" height="27" fill="#32cd32"/>
<rect x="899" y="195" width="3" height="9" fill="#32cd32"/>
<rect x="904" y="195" width="1" height="24" fill="#32cd32"/>
<rect x="903" y="203" width="3" height="8" fill="#32cd32"/>
<rect x="908" y="200" width="1" height="11" fill="#ff0000"/>
<rect x="907" y="202" width="3" height="8" fill="#ff0000"/>
<rect x="908" y="203" width="1" height="6" fill="#ff4a00"/>
<rect x="912" y="184" width="1" height="25" fill="#ff0000"/>
<rect x="911" y="189" width="3" height="14" fill="#ff0000"/>
<rect x="912" y="190" width="1" height="12" fill="#ff4a00"/>
<rect x="916" y="185" width="1" height="24" fill="#32cd32"/>
<rect x="915" y="189" width="3" height="18" fill="#32cd32"/>
<rect x="920" y="203" width="1" height="11" fill="#32cd32"/>
<rect x="919" y="206" width="3" height="6" fill="#32cd32"/>
<rect x="924" y="207" width="1" height="12" fill="#32cd32"/>
<rect x="923" y="211" width="3" height="2" fill="#32cd32"/>
<rect x="928" y="188" width="1" height="29" fill="#ff0000"/>
<rect x="927" y="191" width="3" height="22" fill="#ff0000"/>
<rect x="928" y="192" width="1" height="20" fill="#ff4a00"/>
<rect x="932" y="188" width="1" height="7" fill="#32cd32"/>
<rect x="931" y="191" width="3" height="2" fill="#32cd32"/>
<rect x="936" y="161" width="1" height="45" fill="#ff0000"/>
<rect x="935" y="168" width="3" height="25" fill="#ff0000"/>
<rect x="936" y="169" width="1" height="23" fill="#ff4a00"/>
<rect x="940" y="148" width="1" height="22" fill="#ff0000"/>
<rect x="939" y="149" width="3" height="20" fill="#ff0000"/>
<rect x="940" y="150" width="1" height="18" fill="#ff4a00"/>
<rect x="944" y="140" width="1" height="11" fill="#ff0000"/>
<rect x="943" y="145" width="3" height="5" fill="#ff0000"/>
<rect x="944" y="146" width="1" height="3" fill="#ff4a00"/>
<rect x="948" y="138" width="1" height="10" fill="#32cd32"/>
<rect x="947" y="145" width="3" height="1" fill="#32cd32"/>
<rect x="952" y="140" width="1" height="13" fill="#32cd32"/>
<rect x="951" y="145" width="3" height="1" fill="#32cd32"/>
<rect x="956" y="75" width="1" height="68" fill="#ff0000"/>
<rect x="955" y="88" width="3" height="54" fill="#ff0000"/>
<rect x="956" y="89" width="1" height="52" fill="#ff4a00"/>
<rect x="960" y="81" width="1" height="18" fill="#ff0000"/>
<rect x="959" y="83" width="3" height="6" fill="#ff0000"/>
<rect x="960" y="84" width="1" height="4" fill="#ff4a00"/>
<rect x="964" y="79" width="1" height="26" fill="#ff0000"/>
<rect x="963" y="79" width="3" height="6" fill="#ff0000"/>
<rect x="964" y="80" width="1" height="4" fill="#ff4a00"/>
<rect x="968" y="71" width="1" height="11" fill="#ff0000"/>
<rect x="967" y="75" width="3" height="5" fill="#ff0000"/>
<rect x="968" y="76" width="1" height="3" fill="#ff4a00"/>
<rect x="972" y="48" width="1" height="30" fill="#ff0000"/>
<rect x="971" y="52" width="3" height="24" fill="#ff0000"/>
<rect x="972" y="53" width="1" height="22" fill="#ff4a00"/>
<rect x="976" y="48" width="1" height="32" fill="#32cd32"/>
<rect x="975" y="52" width="3" height="18" fill="#32cd32"/>
<rect x="980" y="57" width="1" height="17" fill="#ff0000"/>
<rect x="979" y="60" width="3" height="11" fill="#ff0000"/>
<rect x="980" y="61" width="1" height="9" fill="#ff4a00"/>
<rect x="984" y="50" width="1" height="38" fill="#32cd32"/>
<rect x="983" y="60" width="3" height="20" fill="#32cd32"/>
<rect x="988" y="76" width="1" height="18" fill="#ff0000"/>
<rect x="987" y="78" width="3" height="2" fill="#ff0000"/>
<rect x="992" y="77" width="1" height="7" fill="#32cd32"/>
<rect x="991" y="79" width="3" height="2" fill="#32cd32"/>
<rect x="996" y="75" width="1" height="11" fill="#ff0000"/>
<rect x="995" y="78" width="3" height="2" fill="#ff0000"/>
<rect x="1000" y="75" width="1" height="88" fill="#32cd32"/>
<rect x="999" y="78" width="3" height="79" fill="#32cd32"/>
<rect x="1004" y="139" width="1" height="19" fill="#ff0000"/>
<rect x="1003" y="140" width="3" height="17" fill="#ff0000"/>
<rect x="1004" y="141" width="1" height="15" fill="#ff4a00"/>
<rect x="1008" y="127" width="1" height="20" fill="#32cd32"/>
<rect x="1007" y="140" width="3" height="7" fill="#32cd32"/>
<rect x="1012" y="115" width="1" height="23" fill="#32cd32"/>
<rect x="1011" y="118" width="3" height="20" fill="#32cd32"/>
<rect x="1016" y="131" width="1" height="10" fill="#ff0000"/>
<rect x="1015" y="132" width="3" height="6" fill="#ff0000"/>
<rect x="1016" y="133" width="1" height="4" fill="#ff4a00"/>
<rect x="1020" y="121" width="1" height="15" fill="#ff0000"/>
<rect x="1019" y="127" width="3" height="6" fill="#ff0000"/>
<rect x="1020" y="128" width="1" height="4" fill="#ff4a00"/>
<rect x="1024" y="98" width="1" height="35" fill="#ff0000"/>
<rect x="1023" y="102" width="3" height="26" fill="#ff0000"/>
<rect x="1024" y="103" width="1" height="24" fill="#ff4a00"/>
<rect x="1028" y="77" width="1" height="29" fill="#ff0000"/>
<rect x="1027" y="79" width="3" height="24" fill="#ff0000"/>
<rect x="1028" y="80" width="1" height="22" fill="#ff4a00"/>
<rect x="1032" y="65" width="1" height="22" fill="#ff0000"/>
<rect x="1031" y="67" width="3" height="13" fill="#ff0000"/>
<rect x="1032" y="68" width="1" height="11" fill="#ff4a00"/>
<rect x="1036" y="67" width="1" height="14" fill="#32cd32"/>
<rect x="1035" y="67" width="3" height="12" fill="#32cd32"/>
<g shape-rendering="crispEdges" stroke="#0000ff" stroke-width="1" fill="none">
<line x1="5" y1="275.45" x2="1068" y2="30.95"/>
<line x1="96.5" y1="368.4" x2="1307" y2="89.6"/>
</g>
<rect x="74" y="257" width="4" height="4" fill="#fff" stroke="#0000ff" stroke-width="1" shape-rendering="crispEdges" transform="translate(0.5,0.5)"/>
<rect x="94" y="366" width="4" height="4" fill="#fff" stroke="#0000ff" stroke-width="1" shape-rendering="crispEdges" transform="translate(0.5,0.5)"/>
<rect x="222" y="337" width="4" height="4" fill="#fff" stroke="#0000ff" stroke-width="1" shape-rendering="crispEdges" transform="translate(0.5,0.5)"/>
<rect x="350" y="307" width="4" height="4" fill="#fff" stroke="#0000ff" stroke-width="1" shape-rendering="crispEdges" transform="translate(0.5,0.5)"/>
<rect x="965" y="51" width="154" height="2" fill="#ff0000"/>
<rect x="866" y="109" width="294" height="2" fill="#00ff00"/>
<rect x="997" y="163" width="163" height="2" fill="#0000ff"/>
<rect x="6" y="196" width="1301" height="1" fill="#000"/>
</g>
<g fill="#000">
<rect x="3" y="30" width="1305" height="1"/>
<rect x="3" y="30" width="2" height="522"/>
<rect x="1307" y="30" width="1" height="348"/>
<rect x="1307" y="379" width="1" height="173"/>
<rect x="1308" y="77" width="1" height="1"/>
<rect x="1308" y="381" width="1" height="1"/>
<rect x="1307" y="431" width="1" height="1" fill="#fff"/>
<rect x="1307" y="499" width="1" height="1" fill="#fff"/>
<rect x="3" y="377" width="1305" height="1"/>
<rect x="3" y="379" width="1305" height="1"/>
<rect x="3" y="551" width="1305" height="1"/>
<rect x="1308" y="44" width="2" height="1"/>
<rect x="1308" y="110" width="2" height="1"/>
<rect x="1308" y="143" width="2" height="1"/>
<rect x="1308" y="176" width="2" height="1"/>
<rect x="1308" y="209" width="2" height="1"/>
<rect x="1308" y="242" width="2" height="1"/>
<rect x="1308" y="275" width="2" height="1"/>
<rect x="1308" y="308" width="2" height="1"/>
<rect x="1308" y="341" width="2" height="1"/>
<rect x="1308" y="374" width="2" height="1"/>
<rect x="68" y="552" width="1" height="3"/>
<rect x="132" y="552" width="1" height="3"/>
<rect x="196" y="552" width="1" height="3"/>
<rect x="260" y="552" width="1" height="3"/>
<rect x="324" y="552" width="1" height="3"/>
<rect x="388" y="552" width="1" height="3"/>
<rect x="452" y="552" width="1" height="3"/>
<rect x="516" y="552" width="1" height="3"/>
<rect x="580" y="552" width="1" height="3"/>
<rect x="644" y="552" width="1" height="3"/>
<rect x="708" y="552" width="1" height="3"/>
<rect x="772" y="552" width="1" height="3"/>
<rect x="836" y="552" width="1" height="3"/>
<rect x="900" y="552" width="1" height="3"/>
<rect x="964" y="552" width="1" height="3"/>
<rect x="1028" y="552" width="1" height="3"/>
<rect x="4" y="552" width="1" height="3"/>
<rect x="4" y="194" width="1" height="2" fill="#fff"/><rect x="4" y="197" width="1" height="1" fill="#fff"/>
</g>
<g clip-path="url(#cr)">
<line x1="5" y1="431.5" x2="1307" y2="431.5" stroke="#c0c0c0" stroke-width="1" stroke-dasharray="3 3"/>
<line x1="5" y1="499.5" x2="1307" y2="499.5" stroke="#c0c0c0" stroke-width="1" stroke-dasharray="3 3"/>
<g shape-rendering="crispEdges"><polyline fill="none" stroke="#1e90ff" stroke-width="1" points="4.5,433.29 8.5,435.24 12.5,434.34 16.5,444.26 20.5,441.56 24.5,442.31 28.5,441.56 32.5,448.77 36.5,455.08 40.5,451.32 44.5,450.87 48.5,442.31 52.5,455.83 56.5,458.08 60.5,460.34 64.5,474.61 68.5,481.37 72.5,469.65 76.5,473.11 80.5,468.3 84.5,473.86 88.5,487.39 92.5,488.44 96.5,482.58 100.5,481.07 104.5,476.12 108.5,478.07 112.5,466.8 116.5,461.84 120.5,450.27 124.5,441.86 128.5,440.35 132.5,446.36 136.5,445.31 140.5,439.3 144.5,434.34 148.5,441.25 152.5,444.26 156.5,449.37 160.5,437.35 164.5,433.29 168.5,429.53 172.5,437.8 176.5,444.26 180.5,445.31 184.5,442.76 188.5,439.6 192.5,440.95 196.5,450.27 200.5,445.76 204.5,448.32 208.5,445.31 212.5,446.51 216.5,457.33 220.5,458.38 224.5,462.29 228.5,454.33 232.5,459.29 236.5,496.85 240.5,472.36 244.5,478.37 248.5,477.32 252.5,481.37 256.5,461.39 260.5,463.34 264.5,464.4 268.5,456.88 272.5,449.37 276.5,440.5 280.5,442.31 284.5,458.84 288.5,462.29 292.5,458.38 296.5,456.28 300.5,464.4 304.5,454.78 308.5,452.37 312.5,450.27 316.5,457.33 320.5,457.33 324.5,455.08 328.5,458.38 332.5,453.28 336.5,457.33 340.5,459.29 344.5,455.83 348.5,452.52 352.5,456.28 356.5,456.28 360.5,442.01 364.5,453.28 368.5,453.58 372.5,473.11 376.5,481.37 380.5,468.3 384.5,474.31 388.5,472.36 392.5,479.12 396.5,483.33 400.5,468.6 404.5,464.4 408.5,462.29 412.5,465.3 416.5,465.3 420.5,467.1 424.5,478.37 428.5,471.31 432.5,462.89 436.5,461.09 440.5,463.34 444.5,456.28 448.5,457.33 452.5,458.84 456.5,450.27 460.5,452.37 464.5,456.28 468.5,480.32 472.5,481.37 476.5,464.4 480.5,469.35 484.5,460.79 488.5,465.6 492.5,469.35 496.5,469.35 500.5,467.1 504.5,441.25 508.5,446.36 512.5,444.26 516.5,439.6 520.5,439.3 524.5,442.31 528.5,437.35 532.5,450.27 536.5,444.26 540.5,442.01 544.5,443.36 548.5,440.5 552.5,436.6 556.5,435.54 560.5,441.56 564.5,437.05 568.5,435.24 572.5,434.94 576.5,432.24 580.5,444.56 584.5,444.56 588.5,447.27 592.5,455.38 596.5,450.27 600.5,454.33 604.5,448.77 608.5,457.33 612.5,454.33 616.5,454.33 620.5,455.38 624.5,487.84 628.5,490.39 632.5,490.39 636.5,483.63 640.5,494.15 644.5,491.89 648.5,478.37 652.5,479.42 656.5,478.37 660.5,475.36 664.5,464.4 668.5,473.41 672.5,468.3 676.5,473.41 680.5,474.61 684.5,468.6 688.5,441.56 692.5,444.26 696.5,425.48 700.5,431.04 704.5,436.75 708.5,435.54 712.5,438.25 716.5,437.5 720.5,458.38 724.5,466.35 728.5,466.35 732.5,466.35 736.5,467.85 740.5,472.81 744.5,479.42 748.5,478.37 752.5,474.31 756.5,460.34 760.5,458.38 764.5,461.09 768.5,463.49 772.5,466.35 776.5,478.37 780.5,477.32 784.5,470.41 788.5,458.84 792.5,456.88 796.5,448.77 800.5,454.33 804.5,451.32 808.5,445.31 812.5,442.31 816.5,436.6 820.5,435.24 824.5,434.34 828.5,428.33 832.5,424.27 836.5,419.47 840.5,464.4 844.5,460.34 848.5,465.3 852.5,459.29 856.5,467.4 860.5,462.29 864.5,464.4 868.5,461.84 872.5,460.04 876.5,450.27 880.5,448.62 884.5,462.29 888.5,461.54 892.5,486.63 896.5,490.69 900.5,492.95 904.5,495.35 908.5,488.14 912.5,480.32 916.5,487.39 920.5,489.19 924.5,490.39 928.5,475.66 932.5,475.06 936.5,460.34 940.5,452.07 944.5,450.27 948.5,450.27 952.5,450.27 956.5,428.78 960.5,427.28 964.5,426.23 968.5,425.03 972.5,419.47 976.5,432.24 980.5,429.53 984.5,442.01 988.5,442.31 992.5,443.36 996.5,442.31 1000.5,481.37 1004.5,474.31 1008.5,476.42 1012.5,471.61 1016.5,469.65 1020.5,467.1 1024.5,455.08 1028.5,447.27 1032.5,443.36 1036.5,448.32"/></g>
</g>
</svg>
<div class="pl" style="top:41px">1.34495</div>
<div class="pl" style="top:107px">1.33400</div>
<div class="pl" style="top:140px">1.32860</div>
<div class="pl" style="top:173px">1.32320</div>
<div class="pl" style="top:206px">1.31780</div>
<div class="pl" style="top:239px">1.31240</div>
<div class="pl" style="top:272px">1.30685</div>
<div class="pl" style="top:305px">1.30145</div>
<div class="pl" style="top:338px">1.29605</div>
<div class="pl" style="top:371px">1.29065</div>
<div class="abs" style="left:1309px;top:73px;width:41px;height:11px;background:#000"></div>
<div class="pl" style="top:75px;color:#fff">1.33930</div>
<div class="abs" style="left:1309px;top:191px;width:41px;height:11px;background:#000"></div>
<div class="pl" style="top:193px;color:#fff">1.31983</div>
<div class="pl" style="left:1311px;top:383px">100</div>
<div class="pl" style="left:1311px;top:428px">70</div>
<div class="pl" style="left:1311px;top:496px">30</div>
<div class="pl" style="left:1311px;top:541px">0</div>
<div class="tl" style="left:37.8px">018</div>
<div class="abs" style="left:1px;top:555px;width:40px;height:11px;background:#000;overflow:hidden"><div class="tl" style="left:-3.6px;top:2px;color:#fff;text-shadow:0 0 0.6px #fff">0.11 4:00</div></div>
<div class="tl" style="left:67px">15 Oct 23:00</div>
<div class="tl" style="left:131px">18 Oct 14:00</div>
<div class="tl" style="left:195px">23 Oct 04:00</div>
<div class="tl" style="left:259px">25 Oct 22:00</div>
<div class="tl" style="left:323px">30 Oct 14:00</div>
<div class="tl" style="left:387px">2 Nov 04:00</div>
<div class="tl" style="left:451px">6 Nov 23:00</div>
<div class="tl" style="left:515px">9 Nov 15:00</div>
<div class="tl" style="left:579px">14 Nov 04:00</div>
<div class="tl" style="left:643px">16 Nov 23:00</div>
<div class="tl" style="left:707px">21 Nov 15:00</div>
<div class="tl" style="left:771px">26 Nov 07:00</div>
<div class="tl" style="left:835px">28 Nov 23:00</div>
<div class="tl" style="left:899px">3 Dec 15:00</div>
<div class="tl" style="left:963px">6 Dec 04:00</div>
<div class="tl" style="left:1027px">10 Dec 23:00</div>
<svg class="abs" style="left:7px;top:36px" width="9" height="6"><path d="M0 5 L3.5 1 L7 5 Z" fill="#000"/></svg>
<div class="t" style="left:19px;top:33px;font-size:9.8px;-webkit-text-stroke:0.22px #000;line-height:11px;letter-spacing:-0.17px;white-space:pre">USDCAD,H4  1.34114 1.34117 1.33903 1.33930</div>
<div class="t" style="left:7px;top:384px;font-size:9.8px;-webkit-text-stroke:0.22px #000;line-height:11px;letter-spacing:-0.1px">RSI(14) 59.4822</div>
<div class="abs" style="left:7px;top:50px;width:52px;height:25px;box-sizing:border-box;border-top:1px solid #d42a2c;border-left:1px solid #d42a2c;background:linear-gradient(#fb5557,#ea3a3c)"></div>
<div class="abs" style="left:174px;top:50px;width:52px;height:25px;box-sizing:border-box;border-top:1px solid #d42a2c;border-right:1px solid #d42a2c;background:linear-gradient(#fb5557,#ea3a3c)"></div>
<div class="abs" style="left:11px;top:73px;width:44px;height:1px;background:#f7a9a9"></div>
<div class="abs" style="left:178px;top:73px;width:44px;height:1px;background:#f7a9a9"></div>
<div class="t btn" style="left:19px;top:56px;font-size:12px;line-height:13px;letter-spacing:-0.8px">SELL</div>
<div class="t btn" style="left:186.5px;top:56px;font-size:12.5px;line-height:13px;letter-spacing:-0.2px">BUY</div>
<div class="abs" style="left:61px;top:50px;width:111px;height:22px;box-sizing:border-box;border:1px solid #b4b4b4;background:#fff"></div>
<div class="abs" style="left:63px;top:51px;width:19px;height:20px;background:linear-gradient(#f4f4f4,#cfcfcf);box-sizing:border-box;border:1px solid #c3c3c3"></div>
<div class="abs" style="left:151px;top:51px;width:20px;height:20px;background:linear-gradient(#f4f4f4,#cfcfcf);box-sizing:border-box;border:1px solid #c3c3c3"></div>
<svg class="abs" style="left:68px;top:58px" width="8" height="6"><path d="M0.5 1 L6.5 1 L3.5 4.5 Z" fill="#4a5fc0"/></svg>
<svg class="abs" style="left:157px;top:58px" width="8" height="6"><path d="M0.5 4.5 L6.5 4.5 L3.5 1 Z" fill="#4a5fc0"/></svg>
<div class="t" style="left:123px;top:55px;font-size:12px;line-height:13px;color:#000">3.00</div>
<svg class="abs" style="left:7px;top:74px" width="219" height="40" viewBox="7 74 219 40" font-family="Liberation Sans, DejaVu Sans, sans-serif">
<defs><linearGradient id="rg" gradientUnits="userSpaceOnUse" x1="0" y1="74" x2="0" y2="114"><stop offset="0" stop-color="#e53235"/><stop offset="0.5" stop-color="#cd1b1e"/><stop offset="1" stop-color="#a80000"/></linearGradient></defs>
<rect x="7" y="74" width="109" height="40" fill="url(#rg)"/><rect x="118" y="74" width="108" height="40" fill="url(#rg)"/>
<rect x="7" y="74" width="1" height="40" fill="#b00c0e" opacity="0.6"/><rect x="225" y="74" width="1" height="40" fill="#b00c0e" opacity="0.6"/>
<rect x="11" y="74" width="44" height="1" fill="#b81214"/><rect x="178" y="74" width="44" height="1" fill="#b81214"/>
<text x="27.3" y="104.6" font-size="12" font-weight="bold" fill="#fff">1.33</text>
<text x="54" y="104.9" font-size="34.5" fill="#fff" stroke="url(#rg)" stroke-width="0.6" textLength="35.5" lengthAdjust="spacingAndGlyphs">93</text>
<text x="93.6" y="89.2" font-size="13.5" font-weight="bold" fill="#fff">0</text>
<text x="137.8" y="104.6" font-size="12" font-weight="bold" fill="#fff">1.33</text>
<text x="164.5" y="104.9" font-size="34.5" fill="#fff" stroke="url(#rg)" stroke-width="0.6" textLength="35.5" lengthAdjust="spacingAndGlyphs">95</text>
<text x="204.1" y="89.2" font-size="13.5" font-weight="bold" fill="#fff">8</text>
</svg>
<div class="abs" style="left:0;top:572px;width:1350px;height:1px;background:#e6e6e6"></div>
<div class="abs" style="left:0;top:574px;width:1352px;height:1px;background:#101010"></div>
<div class="abs" style="left:0;top:575px;width:1350px;height:19px;background:#f0f0f0"></div>
<div class="abs" style="left:1px;top:575px;width:1349px;height:1px;background:#fbfbfb"></div>
<div class="abs" style="left:0;top:575px;width:1px;height:18px;background:#5a5a5a"></div>
<div class="abs" style="left:0;top:597px;width:1349px;height:2px;background:#a2a2a2"></div>
<div class="abs" style="left:0;top:597px;width:1349px;height:1px;background:#b8b8b8"></div>
<div class="abs" style="left:185px;top:574px;width:92px;height:19px;box-sizing:border-box;background:#fff;border:1px solid #000;border-top:none"></div>
<div class="abs" style="left:186px;top:593px;width:92px;height:1px;background:#b8b8b8"></div>
<div class="tab" style="left:17.5px;">EURUSD,H4</div>
<div class="tab" style="left:107px;">USDCHF,H4</div>
<div class="tab" style="left:196px;color:#000;">USDCAD,H4</div>
<div class="tab" style="left:288px;">AUDUSD,H4</div>
<div class="tab" style="left:379px;">USDCNH,H4</div>
<div class="tab" style="left:471px;">USDJPY,H1</div>
<div class="tab" style="left:556px;">XAUUSD,H1</div>
<div class="tab" style="left:649px;">GBPUSD,H1</div>
<div class="sep" style="left:97px"></div>
<div class="sep" style="left:369px"></div>
<div class="sep" style="left:461px"></div>
<div class="sep" style="left:545px"></div>
<div class="sep" style="left:637px"></div>
<div class="sep" style="left:729px"></div>
<svg class="abs" style="left:1318px;top:579px" width="28" height="9"><path d="M5 0.5 L5 7.5 L1.5 4 Z M21 0.5 L21 7.5 L24.5 4 Z" fill="#8c8c8c"/></svg>
</body></html>
